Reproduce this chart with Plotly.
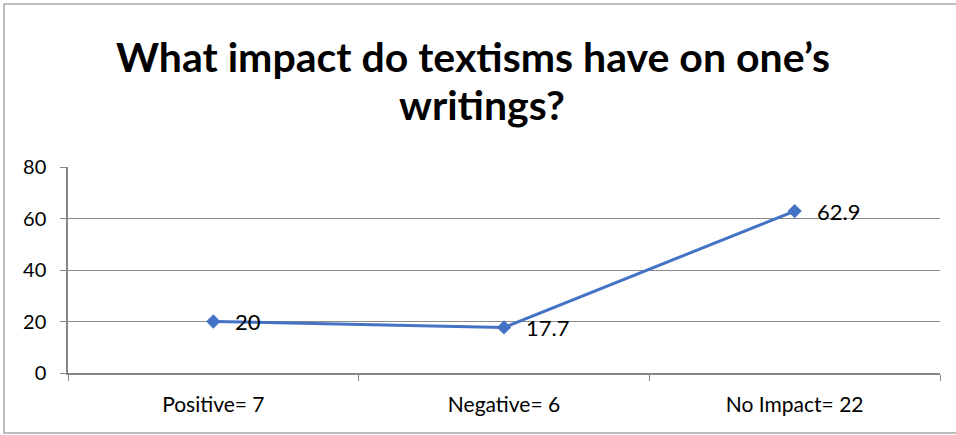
import plotly.graph_objects as go

categories = ["Positive= 7", "Negative= 6", "No Impact= 22"]
values = [20, 17.7, 62.9]
value_labels = ["20", "17.7", "62.9"]
y_ticks = [0, 20, 40, 60, 80]
title_lines = ["What impact do textisms have on one’s", "writings?"]

W, H = 956, 435
ML, MR, MT, MB = 68, 16, 167, 62
pw = W - ML - MR
ph = H - MT - MB

fig = go.Figure()
fig.add_trace(go.Scatter(
    x=categories, y=values, mode="lines+markers",
    line=dict(color="#4472C4", width=3),
    marker=dict(symbol="diamond", size=11, color="#4472C4"),
    cliponaxis=False, showlegend=False,
))

for c, v, t in zip(categories, values, value_labels):
    fig.add_annotation(x=c, y=v, text=t, showarrow=False, xanchor="left",
                       yanchor="middle", xshift=20,
                       font=dict(family="Lato, sans-serif", size=22, color="#000000"))

title_centers_x = [473, 482]
title_centers_y = [56, 105]
for i, line in enumerate(title_lines):
    fig.add_annotation(xref="paper", yref="paper",
                       x=(title_centers_x[i] - ML) / pw,
                       y=(H - MB - title_centers_y[i]) / ph, text=line, showarrow=False,
                       xanchor="center", yanchor="middle",
                       font=dict(family="Lato, sans-serif", size=41, color="#000000", weight="bold"))

# chart border (left, top, bottom visible; right edge off canvas)
fig.add_shape(type="rect", xref="paper", yref="paper",
              x0=(4 - ML) / pw, x1=(958 - ML) / pw,
              y0=(H - MB - 433) / ph, y1=(H - MB - 4) / ph,
              line=dict(color="#A6A6A6", width=1.5), fillcolor="rgba(0,0,0,0)")

fig.update_layout(
    width=W, height=H,
    margin=dict(l=ML, r=MR, t=MT, b=MB),
    paper_bgcolor="white", plot_bgcolor="white",
    font=dict(family="Lato, Open Sans, sans-serif", color="#000000"),
)
fig.update_xaxes(
    type="category", tickson="boundaries", ticks="outside", ticklen=6,
    tickcolor="#868686", showline=True, linecolor="#868686", linewidth=1.5,
    showgrid=False, tickfont=dict(size=21), range=[-0.5, 2.5], ticklabelstandoff=12,
)
fig.update_yaxes(
    range=[0, 80], tickvals=y_ticks, ticks="outside", ticklen=6,
    tickcolor="#868686", showline=True, linecolor="#868686", linewidth=1.5,
    showgrid=True, gridcolor="#8C8C8C", gridwidth=1, zeroline=False,
    tickfont=dict(size=20), ticklabelstandoff=10,
)
fig.write_html("out.html")
